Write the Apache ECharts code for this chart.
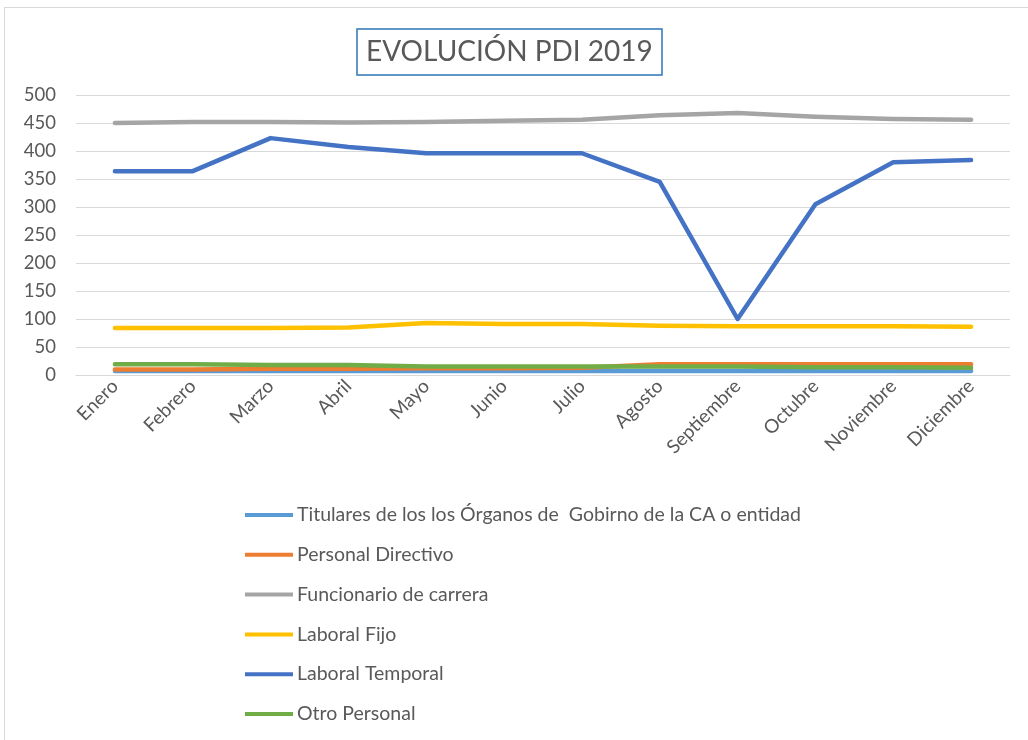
<!DOCTYPE html>
<html>
<head>
<meta charset="utf-8">
<script src="https://cdn.jsdelivr.net/npm/echarts@6/dist/echarts.min.js"></script>
<style>
  html, body { margin: 0; padding: 0; background: #fff; }
  #frame { position: absolute; left: 4px; top: 7px; width: 1030px; height: 740px; border: 1px solid #d9d9d9; box-sizing: border-box; }
  #main { position: absolute; left: 0; top: 0; width: 1028px; height: 740px; }
</style>
</head>
<body>
<div id="frame"></div>
<div id="main"></div>
<script>
// meses
var meses = ['Enero', 'Febrero', 'Marzo', 'Abril', 'Mayo', 'Junio', 'Julio', 'Agosto', 'Septiembre', 'Octubre', 'Noviembre', 'Diciembre'];

// series
var titulares = [7, 7, 7, 7, 7, 7, 7, 7, 7, 7, 7, 7];
var directivo = [10, 10, 11, 11, 12, 12, 13, 19, 19, 19, 19, 19];
var funcionario = [450, 452, 452, 451, 452, 454, 456, 464, 468, 461, 457, 456];
var laboralFijo = [84, 84, 84, 85, 93, 91, 91, 88, 87, 87, 87, 86];
var laboralTemporal = [364, 364, 423, 407, 396, 396, 396, 345, 100, 305, 380, 384];
var otroPersonal = [19, 19, 18, 18, 15, 15, 15, 15, 15, 14, 14, 13];

var nombres = ['Titulares de los los Órganos de  Gobirno de la CA o entidad', 'Personal Directivo', 'Funcionario de carrera', 'Laboral Fijo', 'Laboral Temporal', 'Otro Personal'];
var colores = ['#5B9BD5', '#ED7D31', '#A5A5A5', '#FFC000', '#4472C4', '#70AD47'];
var datos = [titulares, directivo, funcionario, laboralFijo, laboralTemporal, otroPersonal];

var fuente = 'Lato, "Liberation Sans", sans-serif';

var series = [];
for (var i = 0; i < datos.length; i++) {
    series.push({
        name: nombres[i],
        type: 'line',
        symbol: 'none',
        data: datos[i],
        lineStyle: { width: 4.5, color: colores[i], cap: 'round', join: 'round' },
        itemStyle: { color: colores[i] }
    });
}

var myChart = echarts.init(document.getElementById('main'));
var option = {
    backgroundColor: 'transparent',
    animation: false,
    color: colores,
    title: {
        text: 'EVOLUCIÓN PDI 2019',
        left: 357,
        top: 29,
        padding: [6, 9, 6, 9],
        borderColor: '#2E75B6',
        borderWidth: 1.5,
        textStyle: { fontFamily: fuente, fontSize: 28, fontWeight: 'normal', color: '#595959', lineHeight: 34 }
    },
    legend: {
        orient: 'vertical',
        left: 240,
        top: 500,
        itemWidth: 48,
        itemHeight: 14,
        itemGap: 19.8,
        icon: 'path://M0,5 L48,5 L48,9 L0,9 Z',
        textStyle: { fontFamily: fuente, fontSize: 19.5, lineHeight: 20, color: '#595959', padding: [0, 0, 0, -1] },
        data: nombres
    },
    grid: { left: 76, right: 18, top: 95, bottom: 365 },
    xAxis: {
        type: 'category',
        data: meses,
        axisLine: { lineStyle: { color: '#D9D9D9', width: 1 } },
        axisTick: { show: false },
        axisLabel: { rotate: 45, fontFamily: fuente, fontSize: 19, color: '#595959', margin: 8 }
    },
    yAxis: {
        type: 'value',
        min: 0,
        max: 500,
        interval: 50,
        axisLine: { show: false },
        axisTick: { show: false },
        splitLine: { lineStyle: { color: '#D9D9D9', width: 1 } },
        axisLabel: { fontFamily: fuente, fontSize: 18.5, color: '#595959', margin: 20 }
    },
    series: series
};
myChart.setOption(option);
</script>
</body>
</html>
